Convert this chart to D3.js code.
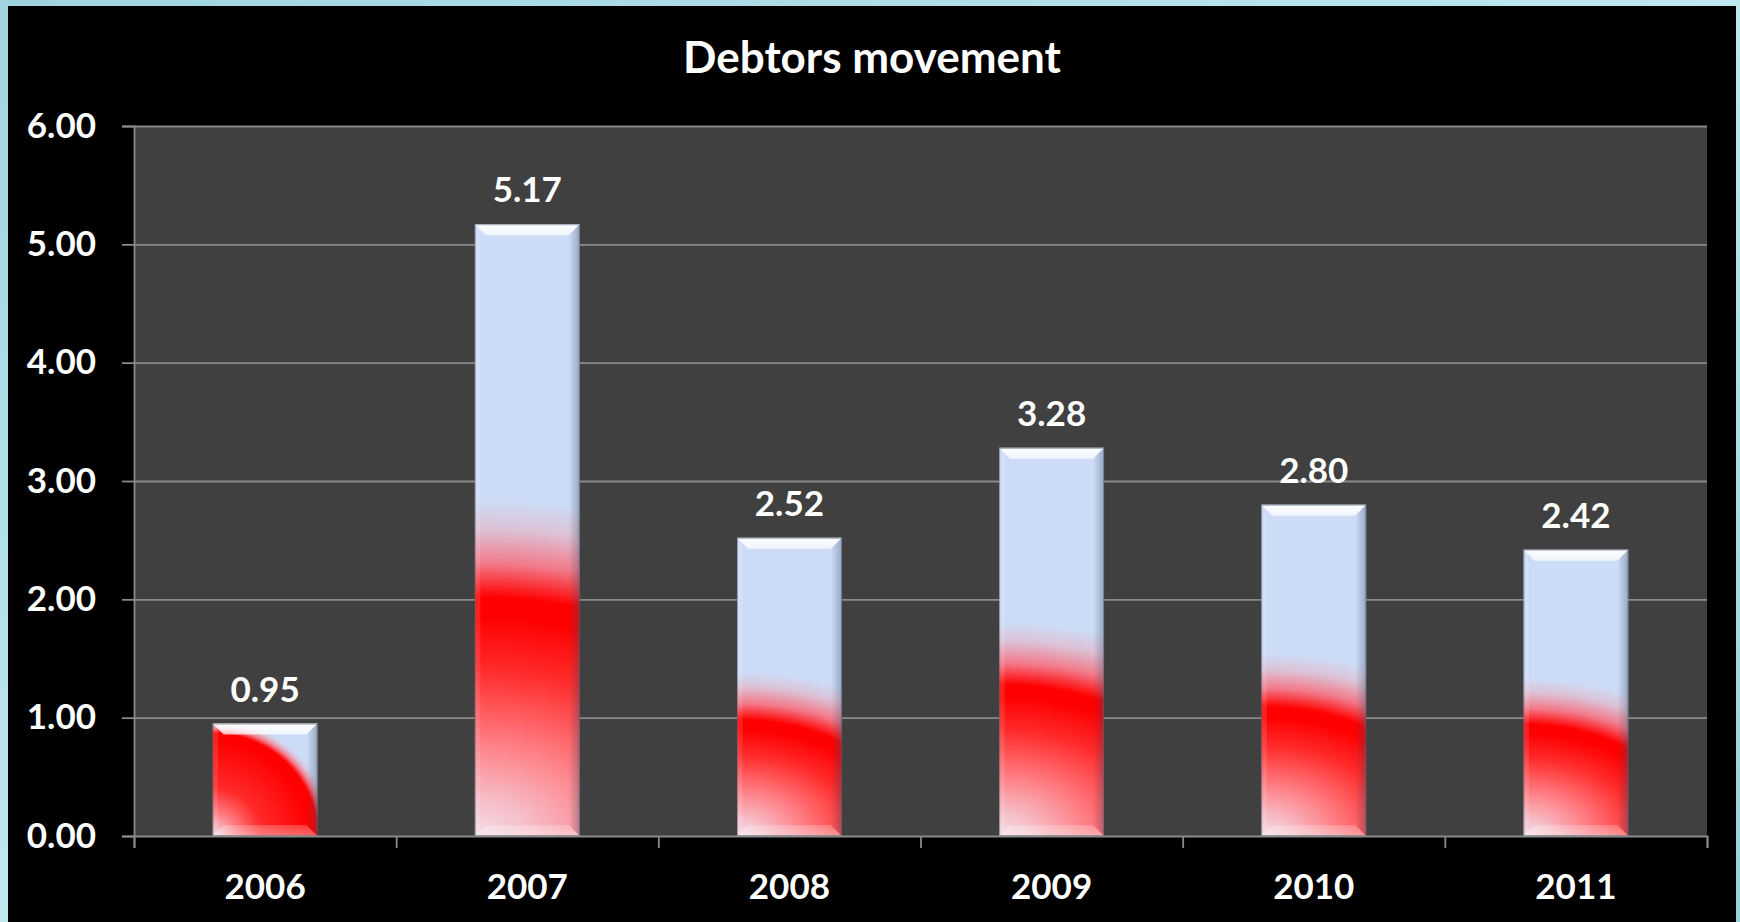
<!DOCTYPE html>
<html>
<head>
<meta charset="utf-8">
<script src="https://cdn.jsdelivr.net/npm/d3@7"></script>
<style>
  html, body { margin: 0; padding: 0; overflow: hidden; background: #a9dbe4; }
  svg { display: block; }
  text { font-family: Lato, "Open Sans", sans-serif; font-weight: 700; fill: #ffffff; }
</style>
</head>
<body>
<svg id="chart" width="1740" height="922"></svg>
<script>
// ---- data ----
const years   = ["2006", "2007", "2008", "2009", "2010", "2011"];
const debtors = [0.95, 5.17, 2.52, 3.28, 2.80, 2.42];
const yTicks  = [0, 1, 2, 3, 4, 5, 6];
const chartTitle = "Debtors movement";

// ---- layout ----
const W = 1740, H = 922;
const panel = { x: 8, y: 6, w: 1728, h: 916 };
const plot  = { left: 134, right: 1707, top: 126, bottom: 836 };
const fmt = d3.format(".2f");
const labelSize = "35px";

const svg  = d3.select("#chart");
const defs = svg.append("defs");

// watery backdrop behind the black panel
const bg = defs.append("linearGradient").attr("id", "backdrop")
  .attr("x1", 0).attr("y1", 0).attr("x2", 1).attr("y2", 1);
bg.append("stop").attr("offset", 0).attr("stop-color", "#9fd4df");
bg.append("stop").attr("offset", 0.5).attr("stop-color", "#bfe7ee");
bg.append("stop").attr("offset", 1).attr("stop-color", "#98cfdb");
svg.append("rect").attr("width", W).attr("height", H).attr("fill", "url(#backdrop)");

// chart panel
svg.append("rect").attr("x", panel.x).attr("y", panel.y)
  .attr("width", panel.w).attr("height", panel.h).attr("fill", "#000000");

// plot area
svg.append("rect").attr("x", plot.left).attr("y", plot.top)
  .attr("width", plot.right - plot.left).attr("height", plot.bottom - plot.top)
  .attr("fill", "#404040");

// ---- scales ----
const x = d3.scaleBand().domain(years).range([plot.left, plot.right])
  .paddingInner(0.6).paddingOuter(0.3);
const y = d3.scaleLinear().domain([0, 6]).range([plot.bottom, plot.top]);
const slot = d3.scaleLinear().domain([0, years.length]).range([plot.left, plot.right]);
const bw = x.bandwidth();

// gridlines
svg.append("g").attr("class", "grid")
  .attr("transform", `translate(${plot.left},0)`)
  .call(d3.axisLeft(y).tickValues(yTicks.slice(1)).tickSize(-(plot.right - plot.left)).tickFormat(""))
  .call(g => g.select(".domain").remove())
  .call(g => g.selectAll("line").attr("stroke", "#8a8a8a").attr("stroke-width", 1.8));

// bevel shading gradients
const topShade = defs.append("linearGradient").attr("id", "bevelTop")
  .attr("x1", 0).attr("y1", 0).attr("x2", 0).attr("y2", 1);
topShade.append("stop").attr("offset", 0).attr("stop-color", "#ffffff").attr("stop-opacity", 0.98);
topShade.append("stop").attr("offset", 1).attr("stop-color", "#ffffff").attr("stop-opacity", 0.7);
const rightShade = defs.append("linearGradient").attr("id", "bevelRight")
  .attr("x1", 0).attr("y1", 0).attr("x2", 1).attr("y2", 0);
rightShade.append("stop").attr("offset", 0).attr("stop-color", "#3a4660").attr("stop-opacity", 0.0);
rightShade.append("stop").attr("offset", 1).attr("stop-color", "#3a4660").attr("stop-opacity", 0.35);
const bottomShade = defs.append("linearGradient").attr("id", "bevelBottom")
  .attr("x1", 0).attr("y1", 0).attr("x2", 0).attr("y2", 1);
bottomShade.append("stop").attr("offset", 0).attr("stop-color", "#ffffff").attr("stop-opacity", 0.2);
bottomShade.append("stop").attr("offset", 1).attr("stop-color", "#ffffff").attr("stop-opacity", 0.4);

// ---- bars ----
const bars = svg.append("g").attr("class", "bars");
const d = 11; // bevel depth

years.forEach((yr, i) => {
  const v = debtors[i];
  const x0 = x(yr), x1 = x0 + bw;
  const y0 = y(v), y1 = y(0), h = y1 - y0;

  // red ring spreading out from the bottom-left corner; squat bars get a round,
  // saturated ring, tall bars a flatter, wider one with a longer pale base
  const t = Math.max(0, Math.min(1, (h / bw - 1) / 1.6));
  const rRed = h * (0.94 - 0.55 * t);
  const rLight = h * (1.06 - 0.51 * t);
  const asp = 1 + 0.5 * t;
  const R = rLight * 1.8;
  const gap = rLight - rRed;
  const stops = [
    [0, "#f3dde6"],
    [rRed * (0.07 + 0.08 * t), "#f6bfc9"],
    [rRed * (0.22 + 0.18 * t), "#ff7c82"],
    [rRed * (0.45 + 0.25 * t), "#ff2a2a"],
    [0.92 * rRed, "#ff0000"], [rRed, "#ff0000"],
    [rRed + 0.35 * gap, "#f27a8a"], [rRed + 0.7 * gap, "#dcc2d6"],
    [rLight, "#cddcf6"], [R, "#cddcf6"]
  ];
  const g = defs.append("radialGradient").attr("id", "barFill" + i)
    .attr("gradientUnits", "userSpaceOnUse")
    .attr("cx", x0).attr("cy", y1).attr("fx", x0).attr("fy", y1).attr("r", R)
    .attr("gradientTransform", `translate(${x0},${y1}) scale(${asp},1) translate(${-x0},${-y1})`);
  stops.forEach(([r, c]) => g.append("stop").attr("offset", r / R).attr("stop-color", c));

  const bar = bars.append("g");
  bar.append("rect").attr("x", x0).attr("y", y0).attr("width", bw).attr("height", h)
    .attr("fill", `url(#barFill${i})`);

  // bevel faces
  bar.append("polygon").attr("fill", "url(#bevelTop)")
    .attr("points", [[x0, y0], [x1, y0], [x1 - d, y0 + d], [x0 + d, y0 + d]].join(" "));
  bar.append("polygon").attr("fill", "#ffffff").attr("fill-opacity", 0.12)
    .attr("points", [[x0, y0], [x0 + d * 0.5, y0 + d * 0.5], [x0 + d * 0.5, y1 - d * 0.5], [x0, y1]].join(" "));
  bar.append("polygon").attr("fill", "url(#bevelRight)")
    .attr("points", [[x1, y0], [x1, y1], [x1 - d, y1 - d], [x1 - d, y0 + d]].join(" "));
  bar.append("polygon").attr("fill", "url(#bevelBottom)")
    .attr("points", [[x0, y1], [x1, y1], [x1 - d, y1 - d], [x0 + d, y1 - d]].join(" "));

  bar.append("rect").attr("x", x0 + 0.5).attr("y", y0 + 0.5).attr("width", bw - 1).attr("height", h - 1)
    .attr("fill", "none").attr("stroke", "#56627a").attr("stroke-opacity", 0.55).attr("stroke-width", 1);
});

// value labels
svg.append("g").selectAll("text").data(debtors).join("text")
  .attr("x", (v, i) => x(years[i]) + bw / 2)
  .attr("y", v => y(v) - 22)
  .attr("text-anchor", "middle")
  .style("font-size", labelSize)
  .text(v => fmt(v));

// ---- axes ----
svg.append("g").attr("transform", `translate(${plot.left},0)`)
  .call(d3.axisLeft(y).tickValues(yTicks).tickFormat(fmt).tickSize(12).tickPadding(26))
  .call(g => g.selectAll("line, .domain").attr("stroke", "#8a8a8a").attr("stroke-width", 1.8))
  .call(g => g.selectAll("text").attr("fill", "#ffffff").style("font-size", labelSize)
    .style("font-family", "Lato, 'Open Sans', sans-serif").style("font-weight", 700));

svg.append("g").attr("transform", `translate(0,${plot.bottom})`)
  .call(d3.axisBottom(slot).tickValues(d3.range(years.length + 1)).tickFormat("").tickSize(12))
  .call(g => g.selectAll("line, .domain").attr("stroke", "#8a8a8a").attr("stroke-width", 1.8));

svg.append("g").attr("transform", `translate(0,${plot.bottom})`)
  .call(d3.axisBottom(x).tickSize(0).tickPadding(38))
  .call(g => g.select(".domain").remove())
  .call(g => g.selectAll("text").attr("fill", "#ffffff").style("font-size", labelSize)
    .style("font-family", "Lato, 'Open Sans', sans-serif").style("font-weight", 700));

// title
svg.append("text").attr("x", panel.x + panel.w / 2).attr("y", 73)
  .attr("text-anchor", "middle").style("font-size", "44px")
  .text(chartTitle);
</script>
</body>
</html>
